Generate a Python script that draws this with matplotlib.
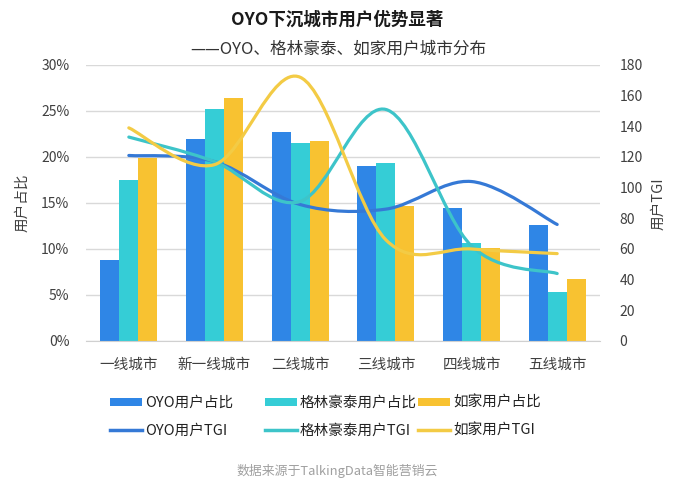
import matplotlib
matplotlib.use('Agg')
import matplotlib.pyplot as plt
from matplotlib.path import Path
from matplotlib.patches import PathPatch, Patch
from matplotlib.lines import Line2D
import numpy as np

plt.rcParams['font.family'] = ['Noto Sans CJK SC', 'DejaVu Sans']

categories = ['一线城市', '新一线城市', '二线城市', '三线城市', '四线城市', '五线城市']
oyo_share = [8.8, 22.0, 22.7, 19.0, 14.5, 12.6]
gl_share = [17.5, 25.2, 21.5, 19.4, 10.6, 5.3]
rj_share = [19.9, 26.4, 21.7, 14.7, 10.1, 6.7]
oyo_tgi = [121, 117, 89, 86, 104, 76]
gl_tgi = [133, 117, 91, 151, 62, 44]
rj_tgi = [139, 115, 172, 66, 60, 57]
share_ticks = [0, 5, 10, 15, 20, 25, 30]
share_tick_labels = ['0%', '5%', '10%', '15%', '20%', '25%', '30%']
tgi_ticks = [0, 20, 40, 60, 80, 100, 120, 140, 160, 180]
bar_labels = ['OYO用户占比', '格林豪泰用户占比', '如家用户占比']
line_labels = ['OYO用户TGI', '格林豪泰用户TGI', '如家用户TGI']

bar_colors = ['#2F86E6', '#35CDD6', '#F8C231']
line_colors = ['#3579D6', '#3DC4C9', '#F3CB45']

W, H = 675, 492
fig = plt.figure(figsize=(W / 100, H / 100), dpi=100)
fig.patch.set_facecolor('white')
ax = fig.add_axes([86 / W, 1 - 341 / H, 514 / W, 276 / H])
ax2 = ax.twinx()

x = np.arange(len(categories))
w = 0.222
for i, (vals, c) in enumerate(zip([oyo_share, gl_share, rj_share], bar_colors)):
    ax.bar(x + (i - 1) * w, vals, width=w, color=c, zorder=2)

ax.set_xlim(-0.5, len(categories) - 0.5)
ax.set_ylim(0, 30)
ax.set_yticks(share_ticks)
ax.set_yticklabels(share_tick_labels)
ax.set_xticks(x)
ax.set_xticklabels(categories)
ax.grid(axis='y', color='#D9D9D9', linewidth=1, zorder=0)
ax.set_axisbelow(True)
for s in ['top', 'right', 'left']:
    ax.spines[s].set_visible(False)
ax.spines['bottom'].set_color('#D0D0D0')
ax.tick_params(axis='both', length=0, colors='#404040')
ax.tick_params(axis='y', labelsize=10, pad=12)
ax.tick_params(axis='x', labelsize=10.5, pad=12)


def smooth_path(xs, ys):
    pts = np.column_stack([xs, ys]).astype(float)
    n = len(pts)
    verts = [pts[0]]
    codes = [Path.MOVETO]
    for i in range(n - 1):
        p0 = pts[max(i - 1, 0)]
        p1 = pts[i]
        p2 = pts[i + 1]
        p3 = pts[min(i + 2, n - 1)]
        c1 = p1 + (p2 - p0) / 6
        c2 = p2 - (p3 - p1) / 6
        verts += [c1, c2, p2]
        codes += [Path.CURVE4] * 3
    return Path(verts, codes)


for vals, c in zip([oyo_tgi, gl_tgi, rj_tgi], line_colors):
    patch = PathPatch(smooth_path(x, vals), fill=False, edgecolor=c, lw=2.3,
                      capstyle='round', zorder=3)
    ax2.add_patch(patch)

ax2.set_ylim(0, 180)
ax2.set_yticks(tgi_ticks)
for s in ['top', 'right', 'left', 'bottom']:
    ax2.spines[s].set_visible(False)
ax2.tick_params(axis='y', length=0, colors='#404040', labelsize=10, pad=14)

fig.text(22 / W, 1 - 203 / H, '用户占比', rotation=90, ha='center', va='center',
         fontsize=10.5, color='#404040')
fig.text(658 / W, 1 - 204 / H, '用户TGI', rotation=90, ha='center', va='center',
         fontsize=10.5, color='#404040')

fig.text(337 / W, 1 - 20 / H, 'OYO下沉城市用户优势显著', ha='center', va='center',
         fontsize=12.6, fontweight='bold', color='#1A1A1A')
fig.text(338 / W, 1 - 49 / H, '——OYO、格林豪泰、如家用户城市分布', ha='center', va='center',
         fontsize=12, color='#333333')
fig.text(337 / W, 1 - 471 / H, '数据来源于TalkingData智能营销云', ha='center', va='center',
         fontsize=9.3, color='#A0A0A0', style='italic')

col_x = [110, 265, 418]
for i in range(3):
    handles = [Patch(facecolor=bar_colors[i], edgecolor='none'),
               Line2D([], [], color=line_colors[i], lw=2.5)]
    fig.legend(handles, [bar_labels[i], line_labels[i]], loc='center left',
               bbox_to_anchor=(col_x[i] / W, 1 - 417 / H), frameon=False,
               fontsize=10.5, handlelength=2.2, handleheight=0.55,
               handletextpad=0.2, labelspacing=0.95, borderpad=0,
               borderaxespad=0, labelcolor='#222222')

fig.savefig('out.png', dpi=100, facecolor='white')
